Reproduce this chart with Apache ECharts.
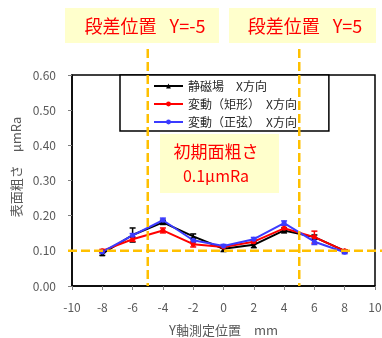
<!DOCTYPE html>
<html><head><meta charset="utf-8">
<script src="https://cdn.jsdelivr.net/npm/echarts@6/dist/echarts.min.js"></script>
<style>html,body{margin:0;padding:0;background:#fff}#c{width:382px;height:338px}</style>
</head><body><div id="c"></div>
<script>
const xVals = [-8, -6, -4, -2, 0, 2, 4, 6, 8];
const seriesNames = ['静磁場　X方向', '変動（矩形）　X方向', '変動（正弦）　X方向'];
const staticVals = [0.092, 0.145, 0.181, 0.141, 0.106, 0.117, 0.158, 0.139, 0.100];
const staticErr  = [0.005, 0.020, 0.006, 0.007, 0.008, 0.008, 0.007, 0.006, 0.003];
const rectVals   = [0.100, 0.133, 0.158, 0.119, 0.111, 0.126, 0.164, 0.139, 0.100];
const rectErr    = [0.004, 0.006, 0.007, 0.008, 0.004, 0.005, 0.008, 0.017, 0.003];
const sineVals   = [0.097, 0.144, 0.187, 0.130, 0.114, 0.133, 0.179, 0.126, 0.096];
const sineErr    = [0.004, 0.005, 0.006, 0.007, 0.004, 0.005, 0.006, 0.008, 0.004];
const colors = ['#000000', '#FF0000', '#3B3BFF'];
const symbols = ['triangle', 'circle', 'circle'];
const yTicks = { min: 0, max: 0.6, interval: 0.1 };
const xTicks = { min: -10, max: 10, interval: 2 };
const stepPositions = [-5, 5];
const initialRoughness = 0.1;
const labels = {
  step1: '段差位置\u2002 Y=-5', step2: '段差位置\u2002 Y=5',
  init1: '初期面粗さ', init2: '0.1μmRa',
  xName: 'Y軸測定位置　mm', yName: '表面粗さ　μmRa'
};

const FONT = '"Noto Sans CJK JP", "Noto Sans", sans-serif';
const allVals = [staticVals, rectVals, sineVals];
const allErr = [staticErr, rectErr, sineErr];

const chart = echarts.init(document.getElementById('c'), null, { renderer: 'canvas' });

function errSeries(i) {
  return {
    type: 'custom', z: 9, silent: true,
    data: xVals.map((x, k) => [x, allVals[i][k], allErr[i][k]]),
    encode: { x: 0, y: 1 },
    renderItem: function (params, api) {
      const x = api.value(0), v = api.value(1), e = api.value(2);
      const t = api.coord([x, v + e]), b = api.coord([x, v - e]);
      const hw = 3;
      const st = { stroke: colors[i], lineWidth: 1.5 };
      return { type: 'group', children: [
        { type: 'line', shape: { x1: t[0], y1: t[1], x2: b[0], y2: b[1] }, style: st },
        { type: 'line', shape: { x1: t[0] - hw, y1: t[1], x2: t[0] + hw, y2: t[1] }, style: st },
        { type: 'line', shape: { x1: b[0] - hw, y1: b[1], x2: b[0] + hw, y2: b[1] }, style: st }
      ]};
    }
  };
}

const lineSeries = seriesNames.map((n, i) => ({
  name: n, type: 'line', z: 10,
  data: xVals.map((x, k) => [x, allVals[i][k]]),
  symbol: symbols[i], symbolSize: 5,
  lineStyle: { color: colors[i], width: 2 },
  itemStyle: { color: colors[i] },
  showSymbol: true
}));

chart.setOption({
  animation: false,
  textStyle: { fontFamily: FONT },
  grid: { left: 72, right: 7, top: 75, bottom: 52, show: true, borderColor: '#000', borderWidth: 1.5,
    backgroundColor: 'transparent', containLabel: false, outerBoundsMode: 'none' },
  legend: {
    data: seriesNames, orient: 'vertical', left: 120, top: 75, z: 4,
    backgroundColor: '#fff', borderColor: '#000', borderWidth: 1.5,
    padding: [4, 32, 2, 33], itemWidth: 29, itemHeight: 6, itemGap: 4,
    selectedMode: false,
    textStyle: { fontSize: 12, lineHeight: 14, color: '#262626', fontFamily: FONT }
  },
  xAxis: {
    type: 'value', min: xTicks.min, max: xTicks.max, interval: xTicks.interval,
    splitLine: { show: false },
    axisLine: { show: true, onZero: false, lineStyle: { color: '#000', width: 1.5 } },
    axisTick: { show: true, length: 4, lineStyle: { color: '#7f7f7f' } },
    axisLabel: { fontSize: 12, color: '#595959', margin: 15, fontFamily: FONT },
    name: labels.xName, nameLocation: 'middle', nameGap: 38,
    nameTextStyle: { fontSize: 13, color: '#595959', fontFamily: FONT }
  },
  yAxis: {
    type: 'value', min: yTicks.min, max: yTicks.max, interval: yTicks.interval,
    splitLine: { show: false },
    axisLine: { show: true, onZero: false, lineStyle: { color: '#000', width: 1.5 } },
    axisTick: { show: true, length: 4, lineStyle: { color: '#7f7f7f' } },
    axisLabel: { fontSize: 12, color: '#595959', margin: 16, formatter: v => v.toFixed(2), fontFamily: FONT },
    name: ''
  },
  series: [errSeries(0), errSeries(1), errSeries(2)].concat(lineSeries)
});

function drawAnnotations() {
  const gridBottom = chart.convertToPixel({ gridIndex: 0 }, [0, yTicks.min])[1];
  const orange = { stroke: '#FFC000', lineWidth: 2.5, lineDash: [9, 4] };
  const g = [];
  stepPositions.forEach((p) => {
    const px = chart.convertToPixel({ gridIndex: 0 }, [p, 0])[0];
    g.push({ type: 'line', z: 20, shape: { x1: px, y1: 49, x2: px, y2: gridBottom }, style: orange });
  });
  const hy = chart.convertToPixel({ gridIndex: 0 }, [0, initialRoughness])[1];
  g.push({ type: 'line', z: 20, shape: { x1: 68, y1: hy, x2: 382, y2: hy }, style: orange });
  const box = (x, y, w, h) => ({ type: 'rect', z: 15, shape: { x, y, width: w, height: h }, style: { fill: '#FFFFCC' } });
  const txt = (x, y, s, size) => ({ type: 'text', z: 16, x, y, style: { text: s, fill: '#FF0000', font: size + 'px ' + FONT, align: 'center', verticalAlign: 'middle' } });
  g.push(box(65, 8, 154, 35), txt(145, 26, labels.step1, 18));
  g.push(box(229, 8, 147, 35), txt(305, 26, labels.step2, 18));
  g.push(box(160, 134, 119, 59), txt(216, 152, labels.init1, 17), txt(216, 176, labels.init2, 16));
  g.push({ type: 'text', z: 16, x: 16, y: 167, rotation: Math.PI / 2,
    style: { text: labels.yName, fill: '#595959', font: '13px ' + FONT, align: 'center', verticalAlign: 'middle' } });
  chart.setOption({ graphic: g });
}
drawAnnotations();
</script></body></html>
